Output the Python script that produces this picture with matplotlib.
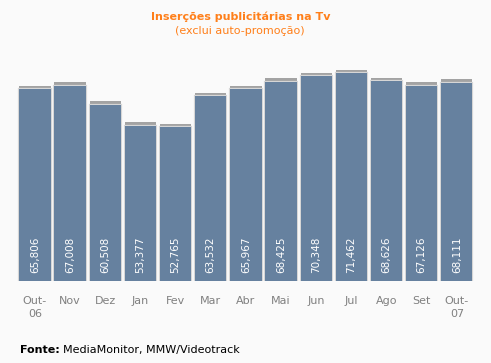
import matplotlib.pyplot as plt
import matplotlib.patheffects as pe

# monthly TV ad insertions (excluding self-promotion)
months = ["Out-\n06", "Nov", "Dez", "Jan", "Fev", "Mar", "Abr", "Mai", "Jun", "Jul", "Ago", "Set", "Out-\n07"]
insertions = [65806, 67008, 60508, 53377, 52765, 63532, 65967, 68425, 70348, 71462, 68626, 67126, 68111]

bg = "#fafafa"
bar_color = "#66819f"
orange = "#ff7f1a"

fig = plt.figure(figsize=(4.91, 3.63), dpi=100, facecolor=bg)
ax = fig.add_axes([17.4 / 491, (363 - 281) / 363, (474.4 - 17.4) / 491, 221 / 363])
ax.set_facecolor(bg)

x = list(range(len(months)))
bars = ax.bar(x, insertions, width=0.89, color=bar_color, zorder=3)
for b in bars:
    b.set_path_effects([
        pe.SimplePatchShadow(offset=(0, 2.5), shadow_rgbFace="#9a9a9a", alpha=0.9),
        pe.Stroke(linewidth=1.6, foreground="#d6d6d6"),
        pe.Normal(),
    ])

# value labels inside bars, rotated
for xi, v in zip(x, insertions):
    ax.annotate(f"{v:,}", (xi, 0), xytext=(0, 6), textcoords="offset points",
                rotation=90, ha="center", va="bottom", color="white", fontsize=7.5, zorder=4)

ax.set_xlim(-0.5, 12.5)
ax.set_ylim(0, 75930)
ax.set_xticks(x)
ax.set_xticklabels(months, color="#808080", fontsize=8, linespacing=1.3)
ax.tick_params(axis="x", length=0, pad=11)
ax.set_yticks([])
for s in ax.spines.values():
    s.set_visible(False)

fig.text(241 / 491, 1 - 17 / 363, "Inserções publicitárias na Tv", color=orange,
         fontsize=8, fontweight="bold", ha="center", va="center")
fig.text(240 / 491, 1 - 31 / 363, "(exclui auto-promoção)", color=orange,
         fontsize=8, ha="center", va="center")

fig.text(20 / 491, 1 - 350 / 363, "Fonte:", fontsize=8, fontweight="bold", color="black", va="center")
fig.text(63 / 491, 1 - 350 / 363, "MediaMonitor, MMW/Videotrack", fontsize=8, color="black", va="center")

fig.savefig("out.png", dpi=100, facecolor=bg)
